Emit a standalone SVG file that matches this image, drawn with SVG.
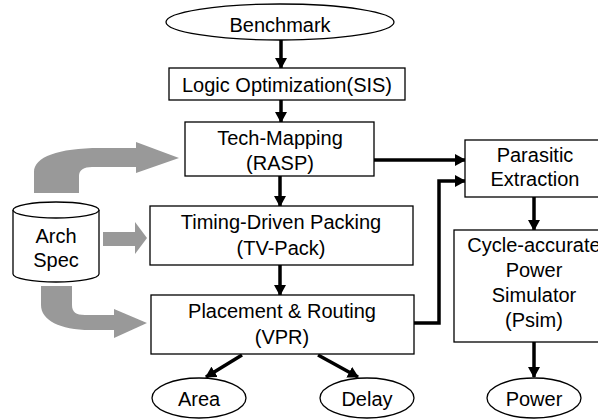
<svg xmlns="http://www.w3.org/2000/svg" width="598" height="419" viewBox="0 0 598 419">
<defs>
<style>
.box{fill:#fff;stroke:#000;stroke-width:1.3}
.t{font-family:"Liberation Sans",Arial,sans-serif;font-size:20px;fill:#000;text-anchor:middle}
.c{fill:none;stroke:#000;stroke-width:3.5}
.g{fill:#999999;stroke:none}
</style>
<marker id="ah" markerUnits="userSpaceOnUse" markerWidth="12" markerHeight="12" refX="10" refY="6" orient="auto">
<path d="M0,0 L11,6 L0,12 Z" fill="#000"/>
</marker>
</defs>
<rect width="598" height="419" fill="#fff"/>

<g id="archArrows">
<path class="g" d="M34,193 L34,172 C34,157 58,148 100,148 L136,148 L136,142 L179,158 L136,173 L136,167 L92,167 C84,167 79,170 79,176 L79,193 Z"/>
<path class="g" d="M103,232 L135,232 L135,222 L147,238 L135,254 L135,246 L103,246 Z"/>
<path class="g" d="M41,286 L72,286 L72,305 C72,312 76,315 85,315 L114,315 L114,309 L147,323 L114,338 L114,330 L90,330 C60,330 41,320 41,305 Z"/>
</g>

<g id="connectors">
<line class="c" x1="281" y1="40" x2="281" y2="68" marker-end="url(#ah)"/>
<line class="c" x1="281" y1="100" x2="281" y2="122" marker-end="url(#ah)"/>
<line class="c" x1="280" y1="176" x2="280" y2="206" marker-end="url(#ah)"/>
<line class="c" x1="280" y1="265" x2="280" y2="295" marker-end="url(#ah)"/>
<line class="c" x1="374" y1="160" x2="465" y2="160" marker-end="url(#ah)"/>
<polyline class="c" points="414,323 439,323 439,181 465,181" marker-end="url(#ah)"/>
<line class="c" x1="534" y1="197" x2="534" y2="230" marker-end="url(#ah)"/>
<line class="c" x1="534" y1="342" x2="534" y2="377" marker-end="url(#ah)"/>
<line class="c" x1="242" y1="355" x2="206" y2="377" marker-end="url(#ah)"/>
<line class="c" x1="318" y1="355" x2="358" y2="377" marker-end="url(#ah)"/>
</g>

<g id="benchmark">
<ellipse class="box" cx="280" cy="22" rx="114" ry="18"/>
<text class="t" x="280" y="32">Benchmark</text>
</g>

<g id="logic">
<rect class="box" x="169" y="68" width="236" height="32"/>
<text class="t" x="287" y="92">Logic Optimization(SIS)</text>
</g>

<g id="techmap">
<rect class="box" x="185" y="122" width="189" height="54"/>
<text class="t" x="280" y="145">Tech-Mapping</text>
<text class="t" x="280" y="170">(RASP)</text>
</g>

<g id="timing">
<rect class="box" x="150" y="206" width="263" height="59"/>
<text class="t" x="281" y="229">Timing-Driven Packing</text>
<text class="t" x="281" y="255">(TV-Pack)</text>
</g>

<g id="placement">
<rect class="box" x="151" y="295" width="263" height="59"/>
<text class="t" x="282" y="318">Placement &amp; Routing</text>
<text class="t" x="282" y="344">(VPR)</text>
</g>

<g id="archspec">
<path class="box" d="M13,210 L13,274 A43,8 0 0 0 99,274 L99,210 A43,8 0 0 0 13,210 Z"/>
<path class="box" d="M13,210 A43,8 0 0 0 99,210" fill="none"/>
<text class="t" x="56" y="243">Arch</text>
<text class="t" x="56" y="267">Spec</text>
</g>

<g id="parasitic">
<rect class="box" x="465" y="140" width="145" height="57"/>
<text class="t" x="535" y="162">Parasitic</text>
<text class="t" x="535" y="186">Extraction</text>
</g>

<g id="psim">
<rect class="box" x="454" y="230" width="160" height="112"/>
<text class="t" x="534" y="252">Cycle-accurate</text>
<text class="t" x="534" y="277">Power</text>
<text class="t" x="534" y="302">Simulator</text>
<text class="t" x="534" y="327">(Psim)</text>
</g>

<g id="area">
<ellipse class="box" cx="199" cy="398" rx="47" ry="20"/>
<text class="t" x="199" y="406">Area</text>
</g>

<g id="delay">
<ellipse class="box" cx="367" cy="398" rx="47" ry="20"/>
<text class="t" x="367" y="406">Delay</text>
</g>

<g id="power">
<ellipse class="box" cx="534" cy="398" rx="47" ry="20"/>
<text class="t" x="534" y="406">Power</text>
</g>
</svg>
